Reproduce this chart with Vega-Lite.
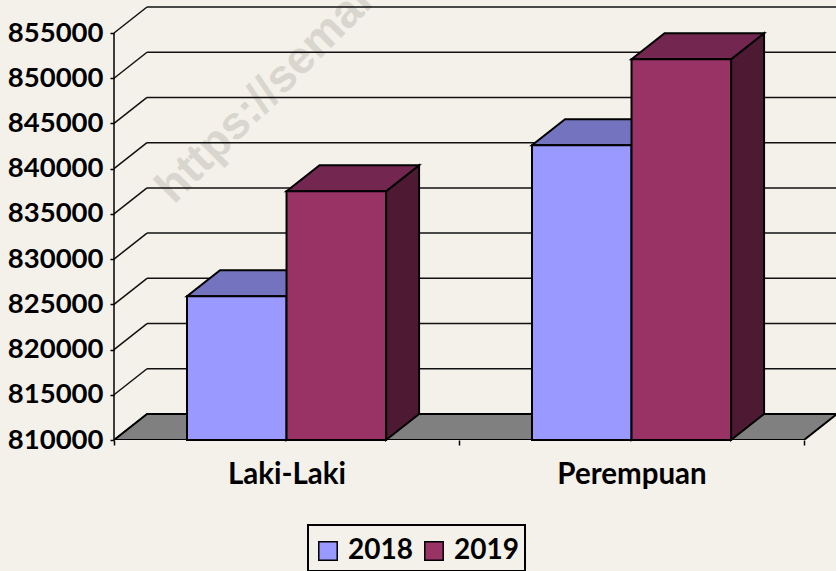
{
"$schema":"https://vega.github.io/schema/vega-lite/v6.json",
"width":722,"height":433,
"autosize":{"type":"none"},
"padding":{"left":114,"top":7,"right":0,"bottom":131},
"background":"#F4F1EA",
"config":{"view":{"stroke":null},"font":"Lato","legend":{"strokeWidth":2}},
"datasets":{
"batang":[
{"kategori":"Laki-Laki","tahun":"2018","nilai":825900},
{"kategori":"Laki-Laki","tahun":"2019","nilai":837500},
{"kategori":"Perempuan","tahun":"2018","nilai":842600},
{"kategori":"Perempuan","tahun":"2019","nilai":852100}],
"kisi":[{"v":810000},{"v":815000},{"v":820000},{"v":825000},{"v":830000},{"v":835000},{"v":840000},{"v":845000},{"v":850000},{"v":855000}]
},
"encoding":{
"x":{"field":"px","type":"quantitative","stack":null,"title":null,"scale":{"domain":[0,2.0928],"nice":false,"zero":false},
"axis":{"values":[0,0.5,1,1.5,2],"labelExpr":"datum.value==0.5?'Laki-Laki':datum.value==1.5?'Perempuan':''","domain":false,"grid":false,"title":null,"tickSize":5,"tickColor":"#000","tickWidth":1.5,"tickOpacity":{"condition":{"test":"datum.value%1==0","value":1},"value":0},"labelFont":"Lato","labelFontWeight":"bold","labelFontSize":29.5,"labelColor":"#000","labelPadding":15,"labelFlush":false,"labelOverlap":false}},
"y":{"field":"py","type":"quantitative","stack":null,"title":null,"scale":{"domain":[810000,857877],"nice":false,"zero":false},
"axis":{"values":[810000,815000,820000,825000,830000,835000,840000,845000,850000,855000],"format":"d","domain":false,"grid":false,"title":null,"tickSize":4,"tickColor":"#000","tickWidth":1.5,"labelFont":"Lato","labelFontWeight":"bold","labelFontSize":27.5,"labelColor":"#000","labelPadding":7,"labelOffset":0,"labelOverlap":false}}
},
"layer":[
{"data":{"values":[{"teks":"https://semarangkota.bps.go.id"}]},
 "transform":[{"calculate":"0.174","as":"px"},{"calculate":"835984","as":"py"}],
 "mark":{"type":"text","angle":-45,"align":"left","baseline":"alphabetic","font":"Liberation Sans","fontWeight":"bold","fontSize":46,"color":"#D9D6CF","clip":false},
 "encoding":{"text":{"field":"teks"}}},
{"data":{"name":"kisi"},
 "transform":[{"calculate":"0.0957","as":"px"},{"calculate":"2.0928","as":"px2"},{"calculate":"datum.v+2875","as":"py"}],
 "mark":{"type":"rule","color":"#111","strokeWidth":1.5},
 "encoding":{"x2":{"field":"px2"}}},
{"data":{"name":"kisi"},
 "transform":[{"calculate":"0","as":"px"},{"calculate":"0.0957","as":"px2"},{"calculate":"datum.v","as":"py"},{"calculate":"datum.v+2875","as":"py2"}],
 "mark":{"type":"rule","color":"#111","strokeWidth":1.5},
 "encoding":{"x2":{"field":"px2"},"y2":{"field":"py2"}}},
{"data":{"values":[{"v":810000,"w":855000}]},
 "transform":[{"calculate":"0","as":"px"},{"calculate":"datum.v","as":"py"},{"calculate":"datum.w","as":"py2"}],
 "mark":{"type":"rule","color":"#000","strokeWidth":1.5},
 "encoding":{"y2":{"field":"py2"}}},
{"data":{"values":[{"v":810000}]},
 "transform":[{"calculate":"[0,1]","as":"t"},{"flatten":["t"]},{"calculate":"datum.t*0.0957","as":"px"},{"calculate":"datum.t*0.0957+2","as":"px2"},{"calculate":"datum.v+datum.t*2875","as":"py"}],
 "mark":{"type":"area","orient":"horizontal","fill":"#808080","stroke":"#000","strokeWidth":2,"clip":true},
 "encoding":{"x2":{"field":"px2"}}},
{"data":{"name":"batang"},
 "transform":[{"calculate":"(datum.kategori==='Laki-Laki'?0:1)+0.2116+(datum.tahun==='2018'?0:0.2885)","as":"kiri"},{"calculate":"[0,1]","as":"t"},{"flatten":["t"]},{"calculate":"datum.kiri+0.2885+datum.t*0.0957","as":"px"},{"calculate":"datum.nilai+datum.t*2875","as":"py"},{"calculate":"810000+datum.t*2875","as":"py2"},{"calculate":"datum.kategori+datum.tahun","as":"id"}],
 "mark":{"type":"area","orient":"vertical","stroke":"#000","strokeWidth":2},
 "encoding":{"y2":{"field":"py2"},"detail":{"field":"id"},"fill":{"condition":{"test":"datum.tahun==='2018'","value":"#4D4D80"},"value":"#4D1933"}}},
{"data":{"name":"batang"},
 "transform":[{"calculate":"(datum.kategori==='Laki-Laki'?0:1)+0.2116+(datum.tahun==='2018'?0:0.2885)","as":"kiri"},{"calculate":"[0,1]","as":"t"},{"flatten":["t"]},{"calculate":"datum.kiri+datum.t*0.0957","as":"px"},{"calculate":"datum.kiri+0.2885+datum.t*0.0957","as":"px2"},{"calculate":"datum.nilai+datum.t*2875","as":"py"},{"calculate":"datum.kategori+datum.tahun","as":"id"}],
 "mark":{"type":"area","orient":"horizontal","stroke":"#000","strokeWidth":2},
 "encoding":{"x2":{"field":"px2"},"detail":{"field":"id"},"fill":{"condition":{"test":"datum.tahun==='2018'","value":"#7373BF"},"value":"#732650"}}},
{"data":{"name":"batang"},
 "transform":[{"calculate":"(datum.kategori==='Laki-Laki'?0:1)+0.2116+(datum.tahun==='2018'?0:0.2885)","as":"px"},{"calculate":"datum.px+0.2885","as":"px2"},{"calculate":"datum.nilai","as":"py"},{"calculate":"810000","as":"py2"}],
 "mark":{"type":"rect","stroke":"#000","strokeWidth":2},
 "encoding":{"x2":{"field":"px2"},"y2":{"field":"py2"},
  "color":{"field":"tahun","type":"nominal","scale":{"domain":["2018","2019"],"range":["#9999FF","#993366"]},
   "legend":{"title":" ","titleFontSize":5,"titlePadding":1,"orient":"none","legendX":194,"legendY":518,"direction":"horizontal","columns":2,"symbolType":"square","symbolSize":340,"symbolStrokeColor":"#000","symbolStrokeWidth":1.5,"symbolOpacity":1,"labelFont":"Lato","labelFontWeight":"bold","labelFontSize":28,"labelColor":"#000","labelOffset":6,"columnPadding":7,"padding":6,"strokeColor":"#000","symbolOffset":0}}}}
]
}
